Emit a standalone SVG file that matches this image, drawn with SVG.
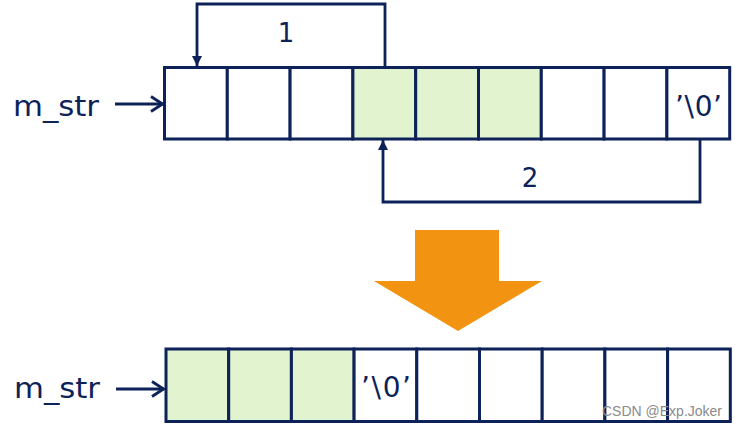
<svg xmlns="http://www.w3.org/2000/svg" width="735" height="428" viewBox="0 0 735 428">
<style>
.cell{fill:#ffffff;stroke:#0c2258;stroke-width:3}
.g{fill:#e2f3cf}
.t{font-family:"DejaVu Sans",Verdana,sans-serif;font-size:26px;fill:#0c2258}
.big{font-size:28px}
.c{fill:none;stroke:#0c2258;stroke-width:2.8}
.wm{font-family:"Liberation Sans",Arial,sans-serif;font-size:14px;fill:#8a8a8a}
</style>
<defs>
<marker id="tri" viewBox="0 0 10 10" refX="10" refY="5" markerWidth="10" markerHeight="10" markerUnits="userSpaceOnUse" orient="auto">
<path d="M0,0 L10,5 L0,10 Z" fill="#0c2258"/>
</marker>
<marker id="open" viewBox="0 0 14 18" refX="13" refY="9" markerWidth="14" markerHeight="18" markerUnits="userSpaceOnUse" orient="auto">
<path d="M1,1.5 L12.5,9 L1,16.5" fill="none" stroke="#0c2258" stroke-width="2.8"/>
</marker>
</defs>
<g id="top-array">
<rect class="cell" x="164.5" y="67.5" width="62.8" height="71.5"/>
<rect class="cell" x="227.3" y="67.5" width="62.8" height="71.5"/>
<rect class="cell" x="290.1" y="67.5" width="62.8" height="71.5"/>
<rect class="cell g" x="352.9" y="67.5" width="62.8" height="71.5"/>
<rect class="cell g" x="415.7" y="67.5" width="62.8" height="71.5"/>
<rect class="cell g" x="478.5" y="67.5" width="62.8" height="71.5"/>
<rect class="cell" x="541.3" y="67.5" width="62.8" height="71.5"/>
<rect class="cell" x="604.1" y="67.5" width="62.8" height="71.5"/>
<rect class="cell" x="666.9" y="67.5" width="62.8" height="71.5"/>
<text class="t big" x="675" y="116" textLength="47" lengthAdjust="spacing">’\0’</text>
</g>
<g id="bottom-array">
<rect class="cell g" x="166" y="349" width="62.7" height="72.5"/>
<rect class="cell g" x="228.7" y="349" width="62.7" height="72.5"/>
<rect class="cell g" x="291.4" y="349" width="62.7" height="72.5"/>
<rect class="cell" x="354.1" y="349" width="62.7" height="72.5"/>
<rect class="cell" x="416.8" y="349" width="62.7" height="72.5"/>
<rect class="cell" x="479.5" y="349" width="62.7" height="72.5"/>
<rect class="cell" x="542.2" y="349" width="62.7" height="72.5"/>
<rect class="cell" x="604.9" y="349" width="62.7" height="72.5"/>
<rect class="cell" x="667.6" y="349" width="62.7" height="72.5"/>
<text class="t big" x="361" y="397" textLength="50" lengthAdjust="spacing">’\0’</text>
</g>
<g id="label-top">
<text class="t big" x="13" y="116" textLength="86" lengthAdjust="spacingAndGlyphs">m_str</text>
</g>
<g id="label-bottom">
<text class="t big" x="14" y="398" textLength="86" lengthAdjust="spacingAndGlyphs">m_str</text>
</g>
<g id="big-arrow">
<polygon points="415,230 499,230 499,281 542,281 458,331 374,281 415,281" fill="#f29311"/>
</g>
<g id="connectors">
<path class="c" d="M115,104 L163,104" marker-end="url(#open)"/>
<path class="c" d="M116,389 L164,389" marker-end="url(#open)"/>
<path class="c" d="M385,67 L385,4 L197,4 L197,66" marker-end="url(#tri)"/>
<text class="t" x="286" y="42" text-anchor="middle">1</text>
<path class="c" d="M700,139 L700,202 L383,202 L383,140" marker-end="url(#tri)"/>
<text class="t" x="530" y="187" text-anchor="middle">2</text>
</g>
<text class="wm" x="602" y="416">CSDN @Exp.Joker</text>
</svg>
